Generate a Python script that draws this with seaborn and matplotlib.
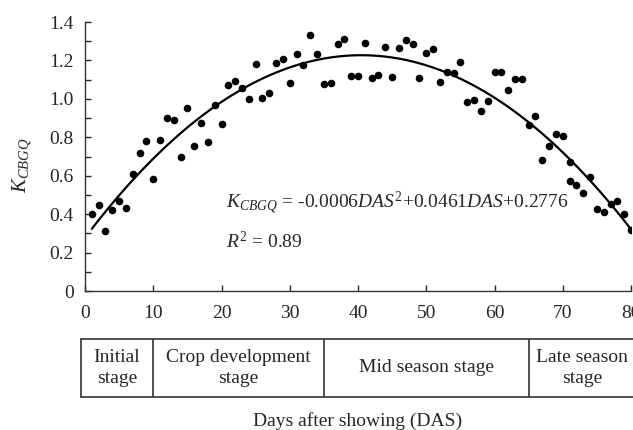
import numpy as np
import pandas as pd
import matplotlib
matplotlib.use("Agg")
import matplotlib.pyplot as plt
import seaborn as sns

# observed crop coefficient per day after sowing
days = [1, 2, 3, 4, 5, 6, 7, 8, 9, 10,
        11, 12, 13, 14, 15, 16, 17, 18, 19, 20,
        21, 22, 23, 24, 25, 26, 27, 28, 29, 30,
        31, 32, 33, 34, 35, 36, 37, 38, 39, 40,
        41, 42, 43, 44, 45, 46, 47, 48, 49, 50,
        51, 52, 53, 54, 55, 56, 57, 58, 59, 60,
        61, 62, 63, 64, 65, 66, 67, 68, 69, 70,
        71, 71, 72, 73, 74, 75, 76, 77, 78, 79, 80]
kc = [0.40, 0.45, 0.31, 0.42, 0.47, 0.43, 0.61, 0.72, 0.78, 0.585,
      0.785, 0.90, 0.888, 0.70, 0.95, 0.757, 0.876, 0.774, 0.966, 0.87,
      1.07, 1.093, 1.058, 1.00, 1.184, 1.006, 1.032, 1.189, 1.206, 1.085,
      1.231, 1.175, 1.332, 1.236, 1.076, 1.085, 1.288, 1.311, 1.12, 1.12,
      1.293, 1.11, 1.123, 1.27, 1.116, 1.264, 1.307, 1.288, 1.11, 1.241,
      1.258, 1.088, 1.142, 1.132, 1.194, 0.983, 0.994, 0.935, 0.988, 1.142,
      1.142, 1.046, 1.105, 1.105, 0.863, 0.91, 0.684, 0.757, 0.818, 0.806,
      0.672, 0.574, 0.55, 0.51, 0.592, 0.427, 0.409, 0.453, 0.466, 0.402, 0.315]

# growth stages
stage_names = ["Initial\nstage", "Crop development\nstage", "Mid season stage", "Late season\nstage"]
stage_bounds = [0, 10, 35, 65, 80]

eq_text = r"$K_{CBGQ}$ = -0.0006$DAS^{2}$+0.0461$DAS$+0.2776"
r2_text = r"$R^{2}$ = 0.89"

df = pd.DataFrame({"DAS": days, "K": kc})

sns.set_style("ticks")
plt.rcParams["font.family"] = ["Liberation Serif", "DejaVu Serif"]
plt.rcParams["mathtext.fontset"] = "custom"
plt.rcParams["mathtext.rm"] = "Liberation Serif"
plt.rcParams["mathtext.it"] = "Liberation Serif:italic"
plt.rcParams["mathtext.bf"] = "Liberation Serif:bold"

W, H = 633, 430
fig = plt.figure(figsize=(W / 100, H / 100), dpi=100)
ax = fig.add_axes([85 / W, 1 - 291 / H, 546 / W, 269 / H])

sns.scatterplot(data=df, x="DAS", y="K", ax=ax, color="black", s=30,
                edgecolor="black", linewidth=0, zorder=3)
sns.regplot(data=df, x="DAS", y="K", ax=ax, order=2, ci=None, scatter=False,
            line_kws={"color": "black", "lw": 1.6}, truncate=True)

ax.set_xlim(0, 80)
ax.set_ylim(0, 1.4)
ax.set_xticks(range(0, 81, 10))
ax.set_yticks(np.arange(0, 1.41, 0.2))
ax.set_yticks(np.arange(0, 1.41, 0.1), minor=True)
ax.set_yticklabels(["0"] + [f"{v:.1f}" for v in np.arange(0.2, 1.41, 0.2)])
ax.tick_params(axis="x", direction="in", length=4, width=1, pad=10, labelsize=14)
ax.tick_params(axis="y", which="both", direction="in", length=4, width=1, pad=8, labelsize=14)
ax.set_xlabel("")
ax.set_ylabel("")
sns.despine(ax=ax)
for s in ["left", "bottom"]:
    ax.spines[s].set_linewidth(1)
    ax.spines[s].set_color("#333333")

ax.text(20.7, 0.46, eq_text, fontsize=14, va="center")
ax.text(20.7, 0.26, r2_text, fontsize=14, va="center")

fig.text(22 / W, 1 - 165 / H, r"$K_{CBGQ}$", rotation=90, fontsize=15,
         ha="center", va="center")

# stage table under the axis
tax = fig.add_axes([85 / W, 1 - 397 / H, 546 / W, 58 / H])
tax.set_xlim(0, 80)
tax.set_ylim(0, 1)
tax.axis("off")
pad = 0.6
left, right = stage_bounds[0] - pad, stage_bounds[-1] + pad
tax.plot([left, right], [1, 1], color="#333333", lw=1.2, clip_on=False)
tax.plot([left, right], [0, 0], color="#333333", lw=1.2, clip_on=False)
edges = [left] + stage_bounds[1:-1] + [right]
for e in edges[:-1]:
    tax.plot([e, e], [0, 1], color="#333333", lw=1.2, clip_on=False)
for name, a, b in zip(stage_names, edges[:-1], edges[1:]):
    tax.text((a + b) / 2, 0.5, name, ha="center", va="center", fontsize=14,
             linespacing=1.25, clip_on=False)

fig.text(358 / W, 1 - 421 / H, "Days after showing (DAS)", ha="center",
         va="center", fontsize=14)

fig.savefig("out.png", dpi=100)
